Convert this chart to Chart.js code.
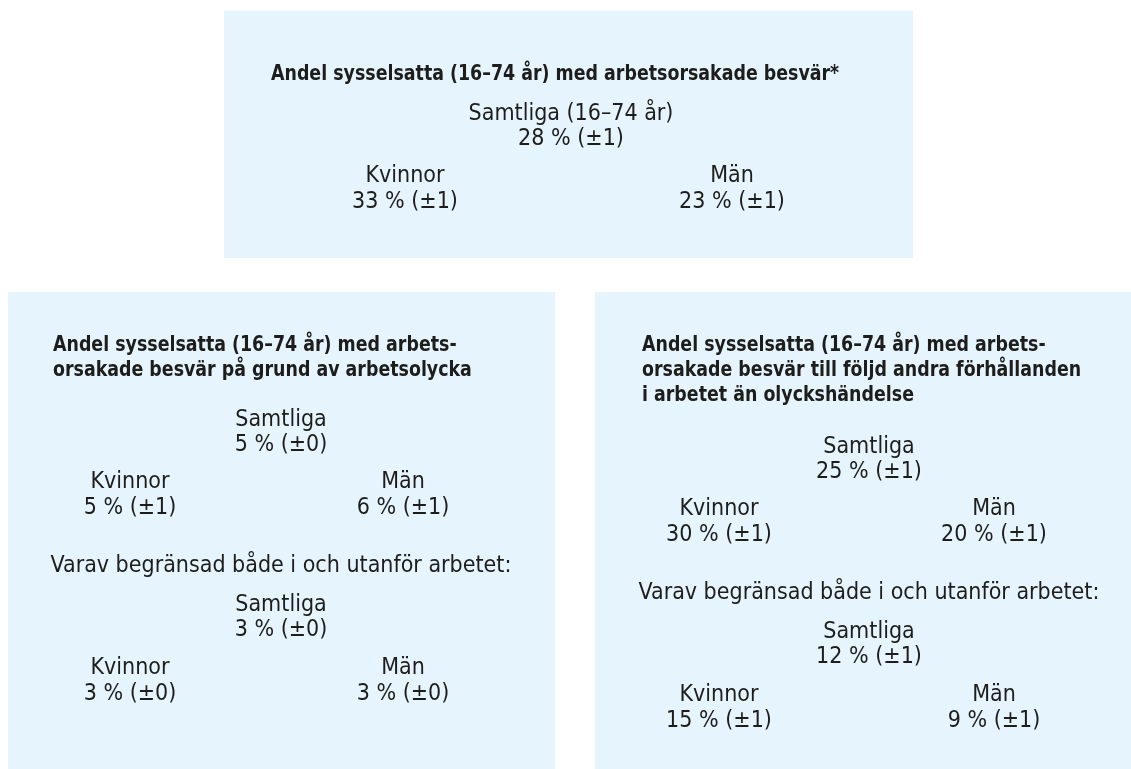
<!DOCTYPE html>
<html>
<head>
<meta charset="utf-8">
<script src="https://cdn.jsdelivr.net/npm/chart.js@4"></script>
<style>
  html, body { margin: 0; padding: 0; background: #ffffff; }
  #wrap { width: 1131px; height: 769px; position: relative; }
</style>
</head>
<body>
<div id="wrap"><canvas id="chart"></canvas></div>
<script>
// panel titles
const titles = [
  ["Andel sysselsatta (16–74 år) med arbetsorsakade besvär*"],
  ["Andel sysselsatta (16–74 år) med arbets-", "orsakade besvär på grund av arbetsolycka"],
  ["Andel sysselsatta (16–74 år) med arbets-", "orsakade besvär till följd andra förhållanden", "i arbetet än olyckshändelse"]
];
const totalLabels = ["Samtliga (16–74 år)", "Samtliga", "Samtliga"];
const subLabel = "Varav begränsad både i och utanför arbetet:";

// percent values and margins of error, per panel
const totalValues = [28, 5, 25];
const totalMargins = [1, 0, 1];
const womenValues = [33, 5, 30];
const womenMargins = [1, 1, 1];
const menValues = [23, 6, 20];
const menMargins = [1, 1, 1];

// "varav begränsad" rows (top panel has none)
const limitedTotal = [null, 3, 12];
const limitedTotalMargins = [null, 0, 1];
const limitedWomen = [null, 3, 15];
const limitedWomenMargins = [null, 0, 1];
const limitedMen = [null, 3, 9];
const limitedMenMargins = [null, 0, 1];

// layout of each panel (in page units)
const panels = [
  { box: [224, 11, 913, 258], titleX: 271, titleY: 74, midX: 571, womenX: 405, menX: 732, rowY: 114 },
  { box: [8, 292, 555, 769], titleX: 53, titleY: 345, midX: 281, womenX: 130, menX: 403, rowY: 420 },
  { box: [595, 292, 1131, 769], titleX: 642, titleY: 345, midX: 869, womenX: 719, menX: 994, rowY: 447 }
];

const boxColor = "#e6f4fd";
const textColor = "#1d1d1b";
const fontStack = "'Liberation Sans Narrow', 'DejaVu Sans Condensed', 'Arial Narrow', sans-serif";
const regularFont = "23px " + fontStack;
const boldFont = "bold 22px " + fontStack;
const boldSqueeze = 0.88; // titles use a tighter condensed cut

function fmt(v, m) {
  return v + " % (\u00b1" + m + ")";
}

// build text points
const textPoints = [];
panels.forEach((p, i) => {
  titles[i].forEach((line, j) => {
    textPoints.push({ x: p.titleX, y: p.titleY + j * 25, text: line, bold: true, align: "left" });
  });
  let y = p.rowY;
  textPoints.push({ x: p.midX, y: y, text: totalLabels[i] });
  textPoints.push({ x: p.midX, y: y + 25.5, text: fmt(totalValues[i], totalMargins[i]) });
  textPoints.push({ x: p.womenX, y: y + 62, text: "Kvinnor" });
  textPoints.push({ x: p.womenX, y: y + 88, text: fmt(womenValues[i], womenMargins[i]) });
  textPoints.push({ x: p.menX, y: y + 62, text: "Män" });
  textPoints.push({ x: p.menX, y: y + 88, text: fmt(menValues[i], menMargins[i]) });
  if (limitedTotal[i] !== null) {
    textPoints.push({ x: p.midX, y: y + 146, text: subLabel });
    textPoints.push({ x: p.midX, y: y + 185, text: "Samtliga" });
    textPoints.push({ x: p.midX, y: y + 210.5, text: fmt(limitedTotal[i], limitedTotalMargins[i]) });
    textPoints.push({ x: p.womenX, y: y + 248, text: "Kvinnor" });
    textPoints.push({ x: p.womenX, y: y + 274, text: fmt(limitedWomen[i], limitedWomenMargins[i]) });
    textPoints.push({ x: p.menX, y: y + 248, text: "Män" });
    textPoints.push({ x: p.menX, y: y + 274, text: fmt(limitedMen[i], limitedMenMargins[i]) });
  }
});

const boxPlugin = {
  id: "boxes",
  beforeDatasetsDraw(chart) {
    const ctx = chart.ctx;
    const xs = chart.scales.x, ys = chart.scales.y;
    ctx.save();
    ctx.fillStyle = boxColor;
    panels.forEach(p => {
      const x0 = xs.getPixelForValue(p.box[0]);
      const y0 = ys.getPixelForValue(p.box[1]);
      const x1 = xs.getPixelForValue(p.box[2]);
      const y1 = ys.getPixelForValue(p.box[3]);
      ctx.fillRect(x0, y0, x1 - x0, y1 - y0);
    });
    ctx.restore();
  },
  afterDatasetsDraw(chart) {
    const ctx = chart.ctx;
    const meta = chart.getDatasetMeta(0);
    ctx.save();
    ctx.fillStyle = textColor;
    ctx.textBaseline = "middle";
    meta.data.forEach((el, i) => {
      const pt = textPoints[i];
      ctx.textAlign = pt.align || "center";
      if (pt.bold) {
        ctx.save();
        ctx.font = boldFont;
        ctx.translate(el.x, el.y);
        ctx.scale(boldSqueeze, 1);
        ctx.fillText(pt.text, 0, 0);
        ctx.restore();
      } else {
        ctx.font = regularFont;
        ctx.fillText(pt.text, el.x, el.y);
      }
    });
    ctx.restore();
  }
};

new Chart(document.getElementById("chart"), {
  type: "scatter",
  data: {
    datasets: [{
      data: textPoints.map(p => ({ x: p.x, y: p.y })),
      pointRadius: 0,
      pointHoverRadius: 0
    }]
  },
  options: {
    responsive: true,
    maintainAspectRatio: false,
    animation: false,
    layout: { padding: 0 },
    plugins: { legend: { display: false }, tooltip: { enabled: false } },
    scales: {
      x: { type: "linear", min: 0, max: 1131, display: false },
      y: { type: "linear", min: 0, max: 769, reverse: true, display: false }
    }
  },
  plugins: [boxPlugin]
});
</script>
</body>
</html>
